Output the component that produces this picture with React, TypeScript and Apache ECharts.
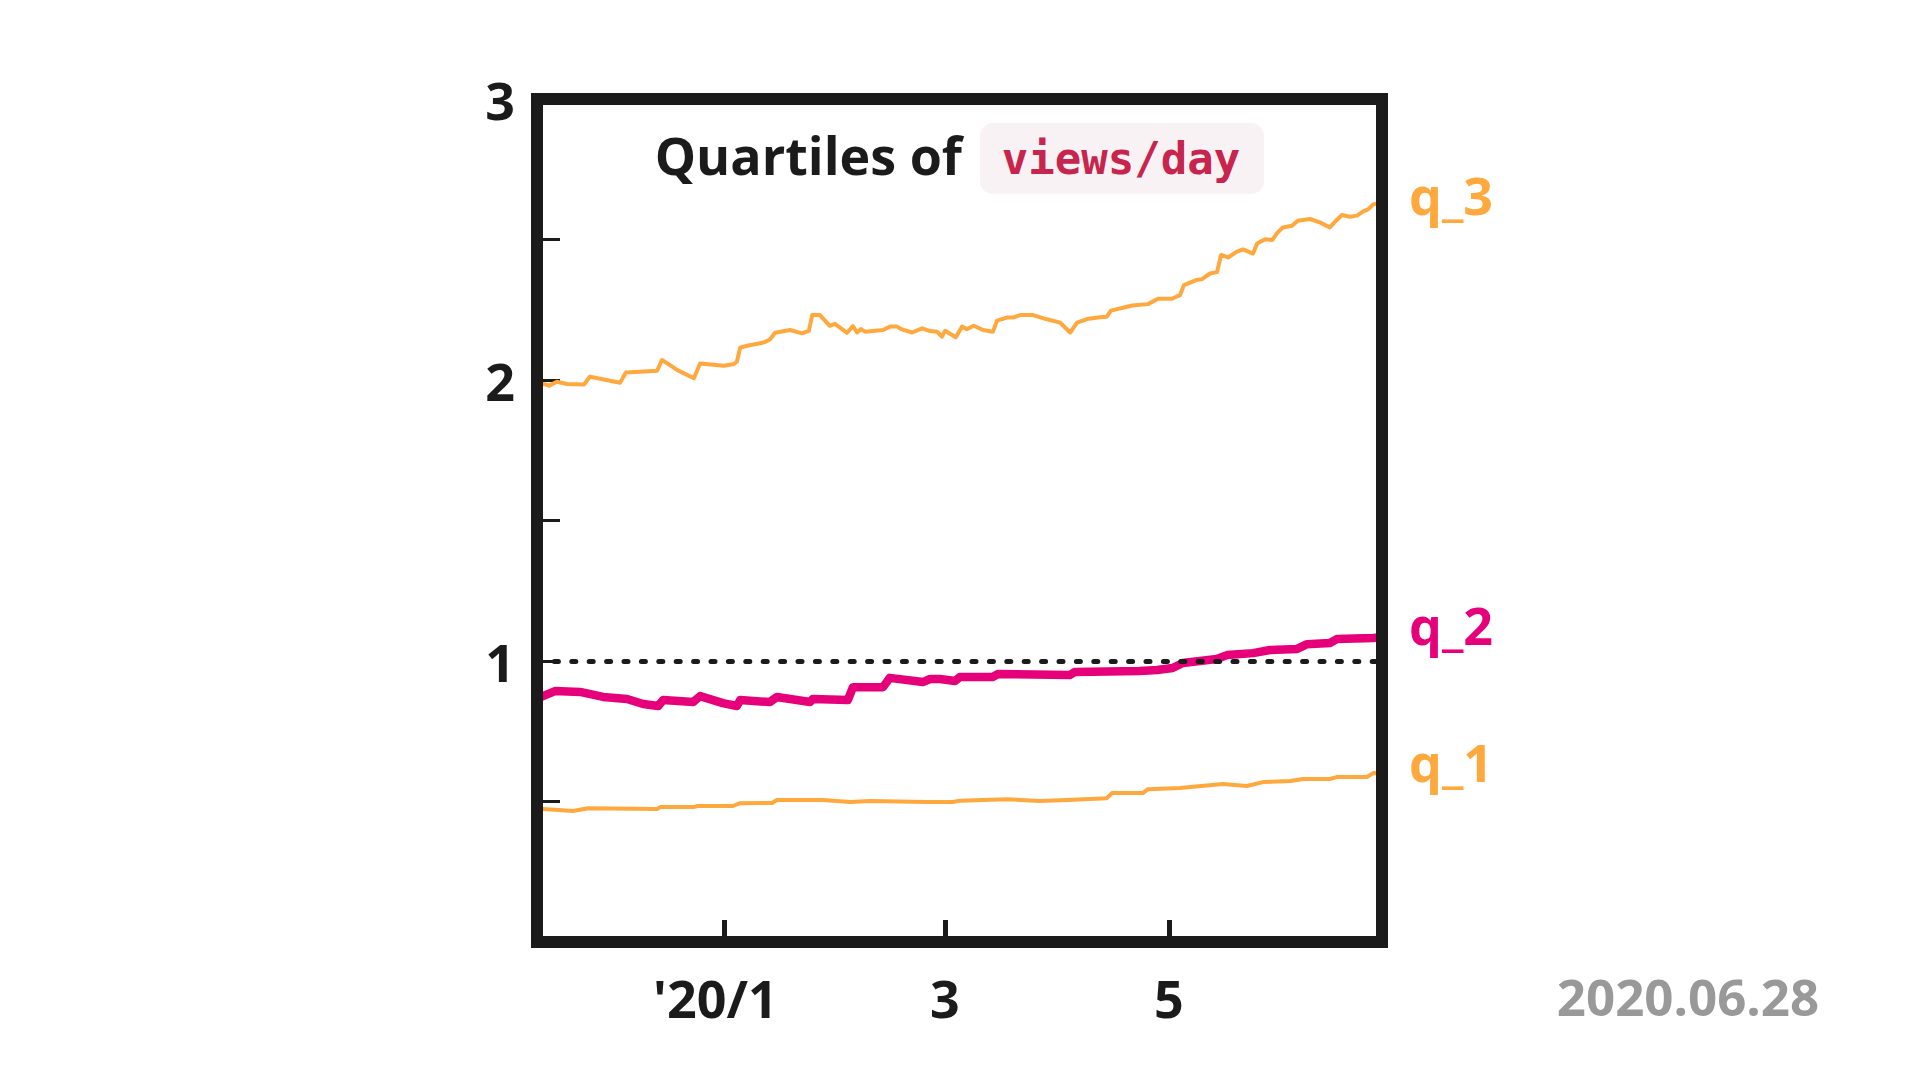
import React, { useEffect, useRef } from "react";
import * as echarts from "echarts";

const DAY = 86400000;
const START = Date.UTC(2019, 10, 11);
const END = Date.UTC(2020, 5, 28);

const tickDates = [Date.UTC(2020, 0, 1), Date.UTC(2020, 2, 1), Date.UTC(2020, 4, 1)];
const yLabels = [1, 2, 3];

// day offsets from 2019-11-11
const q3Days = [0, 1.8, 3.3, 5.4, 8.2, 12.8, 14.4, 18.2, 22.6, 24.2, 32.7, 34.0, 36.2, 38.1, 42.7, 44.4, 50.9, 53.6, 54.4, 55.3, 57.2, 61.8, 63.4, 64.8, 68.9, 72.1, 74.0, 74.9, 77.0, 79.7, 81.1, 84.4, 86.0, 87.1, 88.2, 89.3, 94.2, 96.1, 98.0, 99.3, 102.1, 104.8, 107.0, 108.9, 110.2, 111.1, 114.0, 115.7, 117.0, 118.9, 121.4, 124.1, 125.2, 127.9, 129.5, 131.5, 135.0, 138.8, 142.4, 145.1, 147.0, 149.7, 153.2, 155.1, 156.2, 162.0, 166.3, 169.0, 172.8, 175.0, 176.1, 179.6, 181.0, 183.2, 185.1, 186.2, 188.1, 190.5, 192.2, 194.9, 196.0, 198.2, 200.1, 201.4, 203.0, 205.5, 207.1, 210.4, 213.1, 215.8, 217.2, 219.1, 221.3, 223.2, 224.8, 226.2, 227.6, 230];
const q3Values = [1.986, 1.986, 1.98, 1.994, 1.986, 1.984, 2.012, 2.002, 1.99, 2.027, 2.033, 2.071, 2.053, 2.036, 2.006, 2.059, 2.051, 2.057, 2.065, 2.115, 2.122, 2.134, 2.144, 2.168, 2.178, 2.166, 2.175, 2.231, 2.231, 2.193, 2.2, 2.168, 2.192, 2.169, 2.181, 2.172, 2.178, 2.19, 2.19, 2.18, 2.169, 2.184, 2.174, 2.172, 2.154, 2.175, 2.152, 2.19, 2.181, 2.193, 2.178, 2.172, 2.211, 2.222, 2.222, 2.231, 2.231, 2.216, 2.204, 2.169, 2.204, 2.217, 2.223, 2.225, 2.247, 2.265, 2.27, 2.289, 2.289, 2.302, 2.338, 2.356, 2.359, 2.379, 2.384, 2.445, 2.436, 2.457, 2.465, 2.45, 2.486, 2.501, 2.498, 2.522, 2.543, 2.549, 2.567, 2.573, 2.561, 2.543, 2.563, 2.587, 2.581, 2.585, 2.599, 2.607, 2.625, 2.632];

const q2Days = [0, 1.6, 4.9, 11.7, 18.0, 24.5, 28.9, 33.0, 34.3, 42.5, 44.4, 50.6, 54.4, 55.3, 63.4, 65.3, 74.3, 75.1, 84.6, 86.0, 94.2, 96.0, 105.0, 107.0, 109.7, 113.8, 115.1, 124.0, 125.5, 145.0, 146.4, 164.0, 168.8, 173.0, 175.8, 185.0, 187.8, 194.9, 199.5, 206.9, 209.6, 215.8, 217.7, 227.6, 230];
const q2Values = [0.868, 0.875, 0.893, 0.89, 0.872, 0.865, 0.847, 0.84, 0.861, 0.854, 0.875, 0.85, 0.84, 0.861, 0.854, 0.872, 0.854, 0.865, 0.861, 0.907, 0.907, 0.94, 0.925, 0.936, 0.936, 0.929, 0.943, 0.943, 0.954, 0.95, 0.961, 0.964, 0.968, 0.975, 0.993, 1.007, 1.021, 1.028, 1.039, 1.043, 1.06, 1.064, 1.078, 1.082, 1.085];

const q1Days = [0, 1.6, 9.8, 13.9, 32.7, 33.5, 42.5, 43.8, 53.3, 55.3, 64.0, 65.3, 77.8, 85.2, 90.6, 106.2, 113.2, 115.1, 127.9, 136.9, 144.3, 155.1, 156.5, 164.9, 166.3, 175.0, 186.7, 193.2, 197.6, 205.0, 208.5, 215.8, 217.7, 225.9, 227.6, 230];
const q1Values = [0.473, 0.473, 0.466, 0.476, 0.473, 0.48, 0.48, 0.484, 0.484, 0.494, 0.495, 0.505, 0.505, 0.498, 0.502, 0.498, 0.498, 0.503, 0.508, 0.502, 0.505, 0.512, 0.53, 0.53, 0.544, 0.548, 0.562, 0.555, 0.569, 0.573, 0.58, 0.58, 0.587, 0.587, 0.601, 0.6];

const ORANGE = "#ffa83e";
const PINK = "#e6007a";
const INK = "#1b1b1b";
const FONT = '"Open Sans", "Noto Sans", sans-serif';

const toPoints = (days: number[], vals: number[]) => days.map((d, i) => [d, vals[i]]);
const tickDays = tickDates.map((t) => (t - START) / DAY);

export default function App() {
  const ref = useRef<HTMLDivElement>(null);
  useEffect(() => {
    document.body.style.margin = "0";
    const chart = echarts.init(ref.current!, null, { renderer: "svg" });
    const endLabel = (text: string, color: string, dy: number) => ({
      show: true,
      formatter: text,
      color,
      fontSize: 52,
      fontWeight: "bold",
      fontFamily: FONT,
      distance: 27,
      offset: [0, dy],
    });
    const labelFont = { fontSize: 52, fontWeight: "bold", fontFamily: FONT, color: INK };
    chart.setOption({
      animation: false,
      backgroundColor: "#ffffff",
      grid: {
        left: 537,
        right: 538,
        top: 99,
        bottom: 138,
        show: true,
        borderWidth: 12,
        borderColor: INK,
        backgroundColor: "transparent",
        z: 10,
      },
      xAxis: {
        type: "value",
        min: 0,
        max: (END - START) / DAY,
        axisLine: { show: false },
        splitLine: { show: false },
        axisTick: {
          show: true,
          inside: true,
          length: 22,
          lineStyle: { width: 5, color: INK },
          customValues: tickDays,
        },
        axisLabel: {
          customValues: tickDays,
          margin: 29,
          ...labelFont,
          rich: {
            y: { ...labelFont, padding: [0, 18, 0, 0] },
          },
          formatter: (v: number) => {
            const d = new Date(START + v * DAY);
            const m = d.getUTCMonth() + 1;
            return m === 1 ? "{y|'" + String(d.getUTCFullYear()).slice(2) + "/1}" : String(m);
          },
        },
      },
      yAxis: {
        type: "value",
        min: 0,
        max: 3,
        interval: 0.5,
        axisLine: { show: false },
        splitLine: { show: false },
        axisTick: {
          show: true,
          inside: true,
          length: 23,
          lineStyle: { width: 3, color: INK },
        },
        axisLabel: {
          margin: 22,
          ...labelFont,
          formatter: (v: number) => (yLabels.indexOf(v) >= 0 ? String(v) : ""),
        },
      },
      graphic: [
        {
          type: "rect",
          shape: { x: 980, y: 123, width: 284, height: 71, r: 13 },
          style: { fill: "#f9f2f4" },
        },
        {
          type: "text",
          style: {
            text: "Quartiles of",
            x: 962,
            y: 154,
            align: "right",
            verticalAlign: "middle",
            fontSize: 52,
            fontWeight: "bold",
            fontFamily: FONT,
            fill: INK,
          },
        },
        {
          type: "text",
          style: {
            text: "views/day",
            x: 1121,
            y: 158,
            align: "center",
            verticalAlign: "middle",
            fontSize: 44,
            fontWeight: "bold",
            fontFamily: '"DejaVu Sans Mono", "Liberation Mono", monospace',
            fill: "#c7254e",
          },
        },
        {
          type: "text",
          style: {
            text: "2020.06.28",
            x: 1688,
            y: 996,
            align: "center",
            verticalAlign: "middle",
            fontSize: 51,
            fontWeight: "bold",
            fontFamily: FONT,
            fill: "#999999",
          },
        },
      ],
      series: [
        {
          name: "q_1",
          type: "line",
          data: toPoints(q1Days, q1Values),
          showSymbol: false,
          symbol: "none",
          lineStyle: { color: ORANGE, width: 4, join: "round" },
          itemStyle: { color: ORANGE },
          endLabel: endLabel("q_1", ORANGE, -12),
          markLine: {
            silent: true,
            symbol: "none",
            label: { show: false },
            lineStyle: { type: [4, 13.4], width: 5, color: INK, cap: "round" },
            data: [{ yAxis: 1 }],
          },
          z: 2,
        },
        {
          name: "q_3",
          type: "line",
          data: toPoints(q3Days, q3Values),
          showSymbol: false,
          symbol: "none",
          lineStyle: { color: ORANGE, width: 4, join: "round" },
          itemStyle: { color: ORANGE },
          endLabel: endLabel("q_3", ORANGE, -8),
          z: 3,
        },
        {
          name: "q_2",
          type: "line",
          data: toPoints(q2Days, q2Values),
          showSymbol: false,
          symbol: "none",
          lineStyle: { color: PINK, width: 8.5, join: "round" },
          itemStyle: { color: PINK },
          endLabel: endLabel("q_2", PINK, -13),
          z: 4,
        },
      ],
    });
    return () => chart.dispose();
  }, []);
  return <div ref={ref} style={{ position: "fixed", left: 0, top: 0, width: 1920, height: 1080 }} />;
}
